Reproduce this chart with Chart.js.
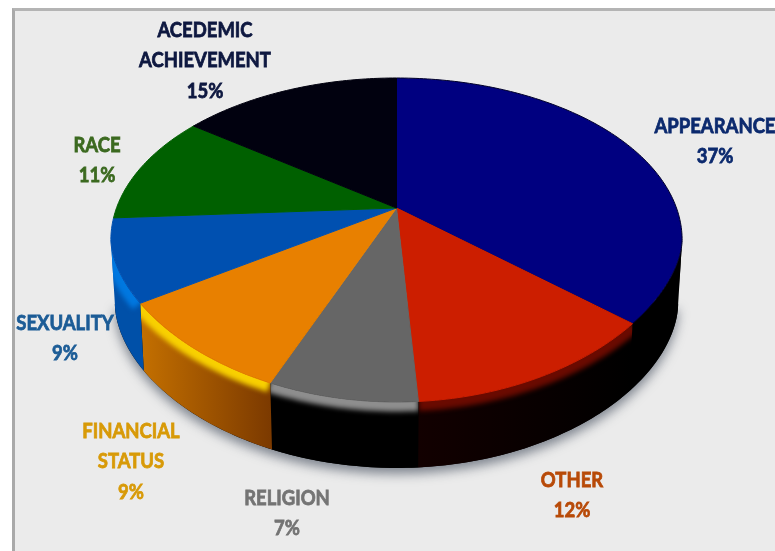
<!DOCTYPE html>
<html>
<head>
<meta charset="utf-8">
<title>Pie</title>
<script src="https://cdn.jsdelivr.net/npm/chart.js@4"></script>
<style>
  html, body { margin: 0; padding: 0; background: #fff; overflow: hidden; }
  #panel {
    position: absolute; left: 12px; top: 8px; width: 763px; height: 543px;
    box-sizing: border-box; background: #ebebeb;
    border-left: 3px solid #a9a9a9; border-top: 3px solid #b4b4b4;
  }
  #pie { position: absolute; left: 0; top: 0; }
</style>
</head>
<body>
<div id="panel"></div>
<canvas id="pie" width="775" height="551"></canvas>
<script>
const categories = ['APPEARANCE', 'OTHER', 'RELIGION', 'FINANCIAL STATUS', 'SEXUALITY', 'RACE', 'ACEDEMIC ACHIEVEMENT'];
const shares = [37, 12, 7, 9, 9, 11, 15];
const sliceColors = ['#000080', '#cc1e00', '#666666', '#e88000', '#0050b0', '#006000', '#01010f'];
const labelColors = ['#0c2a6e', '#b84a08', '#747474', '#d89a08', '#1c5c96', '#3c6a20', '#0e1840'];
const labelCenters = [[715, 126], [572, 480], [287, 498], [131, 431], [65, 323], [97, 145], [205, 30]];

// side wall looks, slice by slice: [left colour, right colour, rim colour]
const wallLooks = [
  ['#000000', '#000000', '#000000'],
  ['#120000', '#000000', '#6a0a00'],
  ['#000000', '#000000', '#8e8e8e'],
  ['#c47000', '#7c3a00', '#f8d000'],
  ['#0050a8', '#0050a8', '#0078e0'],
  ['#000000', '#000000', '#000000'],
  ['#000000', '#000000', '#000000']
];

// tilted disc: a circle seen in perspective, centre lands above the ellipse middle
const disc = { x: 396.5, y: 208, a: 280, b: 114.6, k: -0.1975 };

function flatten(y, mid, ry, power) {
  if (y <= mid) return y;
  return mid + ry * Math.pow((y - mid) / ry, power);
}

function rawPoint(angle) {
  const w = 1 + disc.k * Math.sin(angle);
  return [disc.x + disc.a * Math.cos(angle) / w, (disc.y + disc.b * Math.sin(angle)) / w];
}

function topPoint(angle) {
  const p = rawPoint(angle);
  return [p[0], flatten(p[1], 240, 162, 1.15)];
}

// matching point on the lower rim of the disc
function lowPoint(angle) {
  const p = rawPoint(angle);
  const y = 304 + (p[1] - 240) * 1.012;
  return [disc.x + (p[0] - disc.x) * 0.986, flatten(y, 304, 164, 1.1)];
}

function traceRim(ctx, pointAt, from, to, moveFirst) {
  const steps = Math.max(2, Math.ceil(Math.abs(to - from) * 60));
  for (let i = 0; i <= steps; i++) {
    const p = pointAt(from + (to - from) * i / steps);
    if (i === 0 && moveFirst) ctx.moveTo(p[0], p[1]);
    else ctx.lineTo(p[0], p[1]);
  }
}

const frontFrom = 0.199;
const frontTo = Math.PI - 0.199;

const tiltedPie = {
  id: 'tiltedPie',
  beforeDatasetsDraw(chart) {
    const ctx = chart.ctx;
    const arcs = chart.getDatasetMeta(0).data;

    // soft shadow under the disc
    ctx.save();
    ctx.shadowColor = 'rgba(70,80,95,0.65)';
    ctx.shadowBlur = 11;
    ctx.shadowOffsetY = 6;
    ctx.fillStyle = '#000';
    ctx.beginPath();
    traceRim(ctx, lowPoint, frontFrom, frontTo, true);
    ctx.closePath();
    ctx.fill();
    ctx.restore();

    // side walls, front half only
    arcs.forEach((arc, i) => {
      const from = Math.max(arc.startAngle, frontFrom);
      const to = Math.min(arc.endAngle, frontTo);
      if (to <= from) return;
      const look = wallLooks[i];
      const right = topPoint(from)[0];
      const left = topPoint(to)[0];
      const grad = ctx.createLinearGradient(left, 0, right, 0);
      grad.addColorStop(0, look[0]);
      grad.addColorStop(1, look[1]);

      ctx.save();
      ctx.beginPath();
      traceRim(ctx, topPoint, from, to, true);
      traceRim(ctx, lowPoint, to, from, false);
      ctx.closePath();
      ctx.fillStyle = grad;
      ctx.fill();
      ctx.clip();

      // lit rim just under the top edge
      ctx.filter = 'blur(2.5px)';
      ctx.strokeStyle = look[2];
      ctx.lineWidth = 19;
      ctx.beginPath();
      traceRim(ctx, topPoint, from, to, true);
      ctx.stroke();
      ctx.restore();
    });

    // top face
    arcs.forEach((arc, i) => {
      ctx.beginPath();
      ctx.moveTo(disc.x, disc.y);
      traceRim(ctx, topPoint, arc.startAngle, arc.endAngle, false);
      ctx.closePath();
      ctx.fillStyle = sliceColors[i];
      ctx.strokeStyle = i === 0 ? '#00002a' : sliceColors[i];
      ctx.lineWidth = 1;
      ctx.fill();
      ctx.stroke();
    });
    return false;
  },
  afterDraw(chart) {
    const ctx = chart.ctx;
    categories.forEach((name, i) => {
      const lines = name.split(' ').concat(shares[i] + '%');
      lines.forEach((line, n) => {
        ctx.save();
        ctx.translate(labelCenters[i][0], labelCenters[i][1] + n * 30.5);
        ctx.scale(0.88, 1);
        ctx.font = 'bold 21px Lato, "Open Sans", sans-serif';
        ctx.textAlign = 'center';
        ctx.textBaseline = 'middle';
        ctx.fillStyle = labelColors[i];
        ctx.strokeStyle = labelColors[i];
        ctx.lineWidth = 0.8;
        ctx.fillText(line, 0, 0);
        ctx.strokeText(line, 0, 0);
        ctx.restore();
      });
    });
  }
};

new Chart(document.getElementById('pie').getContext('2d'), {
  type: 'pie',
  data: {
    labels: categories,
    datasets: [{ data: shares, backgroundColor: sliceColors }]
  },
  options: {
    responsive: false,
    animation: false,
    plugins: {
      legend: { display: false },
      tooltip: { enabled: false }
    }
  },
  plugins: [tiltedPie]
});
</script>
</body>
</html>
